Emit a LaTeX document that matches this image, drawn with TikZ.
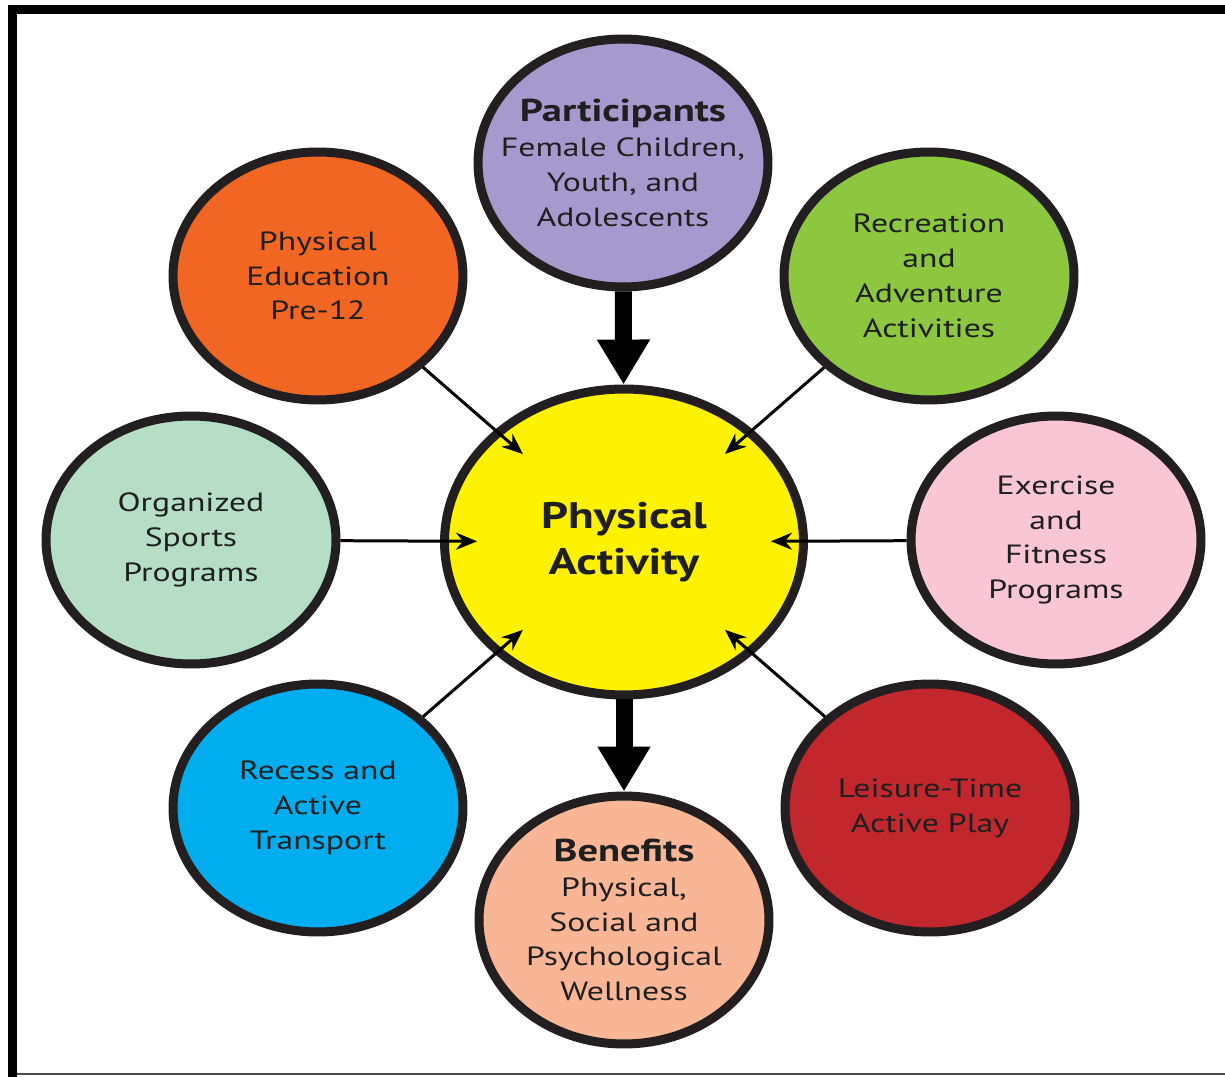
\documentclass[tikz,border=0pt]{standalone}
\usepackage{fontspec}
\setmainfont{PT Sans}[FakeStretch=1.28]
\usetikzlibrary{arrows.meta, shapes.geometric}

\definecolor{ringC}{RGB}{35,31,32}
\definecolor{purpleC}{RGB}{166,153,206}
\definecolor{orangeC}{RGB}{242,102,36}
\definecolor{greenC}{RGB}{141,198,63}
\definecolor{mintC}{RGB}{181,222,197}
\definecolor{pinkC}{RGB}{249,198,214}
\definecolor{blueC}{RGB}{0,174,239}
\definecolor{redC}{RGB}{193,39,45}
\definecolor{salmonC}{RGB}{248,182,150}
\definecolor{yellowC}{RGB}{255,242,0}

\begin{document}
\begin{tikzpicture}[
    x=0.02cm, y=-0.02cm,
    >=Stealth,
    sat/.style={ellipse, draw=ringC, line width=0.18cm, minimum width=5.8cm,
        minimum height=4.96cm, inner xsep=-1.2cm, inner ysep=-0.8cm,
        align=center, text=black!88, font=\fontsize{15}{19.8}\selectfont},
    hub/.style={sat, minimum width=7.18cm, minimum height=6.12cm,
        font=\fontsize{21}{26}\selectfont\bfseries},
    thin arr/.style={-{Stealth[length=0.42cm, width=0.34cm]}, line width=0.06cm,
        black, shorten >=-0.74cm},
    big arr/.style={-{Triangle[length=0.9cm, width=1.0cm]}, line width=0.34cm, black},
]
\useasboundingbox (0,0) rectangle (1225,1077);
% === Frame ===
\fill[black] (8,5) rectangle (1225,14);
\fill[black] (8,5) rectangle (17,1077);
\draw[black!70, line width=0.04cm] (17,1074) -- (1225,1074);

% === Centre ===
\node[hub, fill=yellowC] (pa) at (624,542) {Physical\\Activity};

% === Outer ring ===
\node[sat, fill=purpleC] (part) at (623,163)
    {{\bfseries\fontsize{18}{19.8}\selectfont Participants}\\Female Children,\\Youth, and\\Adolescents};
\node[sat, fill=orangeC] (pe) at (318,276) {Physical\\Education\\Pre-12};
\node[sat, fill=greenC] (rec) at (929,276) {Recreation\\and\\Adventure\\Activities};
\node[sat, fill=mintC] (org) at (191,540) {Organized\\Sports\\Programs};
\node[sat, fill=pinkC] (ex) at (1056,540) {Exercise\\and\\Fitness\\Programs};
\node[sat, fill=blueC] (rt) at (318,808) {Recess and\\Active\\Transport};
\node[sat, fill=redC] (lt) at (930,808) {Leisure-Time\\Active Play};
\node[sat, fill=salmonC] (ben) at (624,920)
    {{\bfseries\fontsize{18}{19.8}\selectfont Benefits}\\Physical,\\Social and\\Psychological\\Wellness};

% === Arrows ===
\draw[big arr] (part) -- (pa);
\draw[big arr] (pa) -- (ben);
\foreach \n in {pe, rec, org, ex, rt, lt} {
    \draw[thin arr] (\n) -- (pa);
}
\end{tikzpicture}
\end{document}
